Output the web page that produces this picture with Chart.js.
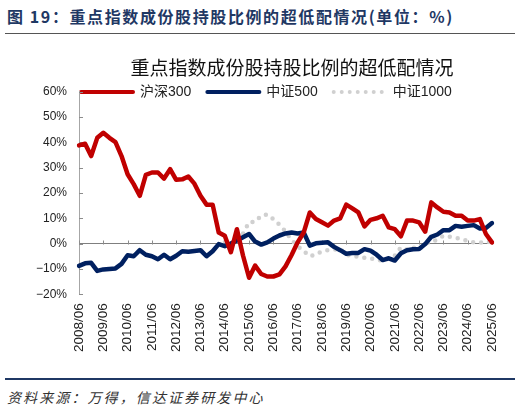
<!DOCTYPE html>
<html>
<head>
<meta charset="utf-8">
<script src="https://cdn.jsdelivr.net/npm/chart.js@4.4.1/dist/chart.umd.min.js"></script>
<style>
  html, body { margin: 0; padding: 0; background: #fff; }
  body { width: 520px; height: 410px; position: relative; overflow: hidden; }
  #hdr { position: absolute; left: 7px; top: 4px; font-family: "Noto Sans CJK SC", sans-serif; font-weight: bold; font-size: 16px; letter-spacing: 1.6px; color: #1f3864; white-space: nowrap; }
  #sep1 { position: absolute; left: 5px; top: 33px; width: 510px; height: 1px; background: #555; }
  #wrap { position: absolute; left: 0; top: 0; width: 520px; height: 370px; }
  #sep2 { position: absolute; left: 5px; top: 378px; width: 510px; height: 2px; background: #1f3864; }
  #src { position: absolute; left: 7px; top: 387px; font-family: "Noto Sans CJK SC", sans-serif; font-style: italic; font-size: 14px; letter-spacing: 2.1px; color: #333; white-space: nowrap; }
</style>
</head>
<body>
<div id="hdr">图 19：重点指数成份股持股比例的超低配情况(单位：%)</div>
<div id="sep1"></div>
<div id="wrap"><canvas id="c"></canvas></div>
<div id="sep2"></div>
<div id="src">资料来源：万得，信达证券研发中心</div>
<script>
const quarters = [
  "2008/06","2008/09","2008/12",
  "2009/03","2009/06","2009/09","2009/12",
  "2010/03","2010/06","2010/09","2010/12",
  "2011/03","2011/06","2011/09","2011/12",
  "2012/03","2012/06","2012/09","2012/12",
  "2013/03","2013/06","2013/09","2013/12",
  "2014/03","2014/06","2014/09","2014/12",
  "2015/03","2015/06","2015/09","2015/12",
  "2016/03","2016/06","2016/09","2016/12",
  "2017/03","2017/06","2017/09","2017/12",
  "2018/03","2018/06","2018/09","2018/12",
  "2019/03","2019/06","2019/09","2019/12",
  "2020/03","2020/06","2020/09","2020/12",
  "2021/03","2021/06","2021/09","2021/12",
  "2022/03","2022/06","2022/09","2022/12",
  "2023/03","2023/06","2023/09","2023/12",
  "2024/03","2024/06","2024/09","2024/12",
  "2025/03","2025/06"
];
const hs300 = [
  38.8, 39.5, 34.6,
  41.8, 43.8, 41.8, 40.1,
  34.6, 27.4, 23.5, 18.9,
  27.2, 28.1, 28.1, 25.7,
  29.4, 25.2, 25.4, 26.5,
  23.7, 18.9, 15.4, 15.4,
  4.4, 3.1, -3.4, 5.7,
  -4.7, -13.5, -8.7, -12.0,
  -13.0, -13.0, -12.2, -9.0,
  -4.5, 0.5, 4.4, 12.3,
  9.7, 8.4, 7.1, 9.1,
  10.0, 15.4, 13.9, 12.3,
  6.8, 9.4, 10.0, 11.0,
  6.4, 5.7, 2.9, 9.1,
  9.1, 8.4, 4.7, 16.3,
  14.3, 12.6, 12.3, 11.0,
  11.0, 9.1, 9.1, 9.7,
  3.8, 0.5
];
const zz500 = [
  -8.8, -7.8, -7.6,
  -10.8, -10.2, -10.0, -9.8,
  -8.0, -4.6, -5.0, -2.6,
  -4.4, -5.0, -6.2, -4.4,
  -6.2, -4.8, -3.0, -3.2,
  -2.9, -2.6, -5.0, -3.0,
  -0.2, -1.0, 0.0, 1.2,
  2.5, 3.8, 0.8, -0.4,
  0.5, 2.0, 3.2, 4.0,
  4.4, 4.0, 4.4, -0.8,
  0.1, 0.3, 0.5, -1.3,
  -2.6, -4.0, -3.7, -3.7,
  -2.2, -2.8, -4.4, -6.5,
  -5.8, -6.7, -3.8, -2.6,
  -2.2, -2.1, -0.2, 2.7,
  3.6, 5.3, 5.3, 7.0,
  6.7, 7.0, 7.3, 6.0,
  6.2, 8.1
];
const zz1000 = [
  null, null, null,
  null, null, null, null,
  null, null, null, null,
  null, null, null, null,
  null, null, null, null,
  null, null, null, null,
  null, 0.5, -0.5, 0.5,
  4.0, 8.4, 8.6, 11.0,
  11.5, 9.7, 7.5, 4.8,
  1.5, -1.0, -3.0, -5.0,
  -4.3, -3.0, -2.6, -2.4,
  -2.0, -4.5, -4.8, -5.2,
  -5.6, -5.8, -6.5, -6.7,
  -6.0, -4.7, -1.5, -2.4,
  -1.5, -2.2, -0.1, 0.8,
  1.5, 3.1, 2.7, 2.3,
  1.8, 1.0, 0.5, 0.3,
  0.8, 0.5
];
const seriesNames = ["沪深300", "中证500", "中证1000"];
const chartTitle = "重点指数成份股持股比例的超低配情况";

const FONT = "'Liberation Sans', 'Noto Sans CJK SC', sans-serif";

const decor = {
  id: 'decor',
  afterLayout(chart) {
    const tb = chart.titleBlock;
    if (tb) {
      const h = tb.bottom - tb.top;
      tb.left = 64; tb.right = 520;
      tb.top = 68 - 11.4 - 10; tb.bottom = tb.top + h;
    }
    const lg = chart.legend;
    if (lg) {
      const h = lg.bottom - lg.top;
      lg.left = 81 - 16; lg.right = chart.chartArea.right;
      lg.top = 92 - 16 - 7; lg.bottom = lg.top + h;
    }
  },
  beforeDatasetsDraw(chart) {
    const {ctx, scales: {x, y}, chartArea} = chart;
    ctx.save();
    ctx.strokeStyle = '#8c8c8c';
    ctx.lineWidth = 1;
    ctx.beginPath();
    const y0 = Math.round(y.getPixelForValue(0)) + 0.5;
    quarters.forEach((q, i) => {
      if (i % 4 === 0) {
        const px = Math.round(x.getPixelForValue(i)) + 0.5;
        ctx.moveTo(px, y0);
        ctx.lineTo(px, y0 - 4);
      }
    });
    y.ticks.forEach(t => {
      const py = Math.round(y.getPixelForValue(t.value)) + 0.5;
      ctx.moveTo(chartArea.left, py);
      ctx.lineTo(chartArea.left + 4, py);
    });
    ctx.stroke();
    ctx.restore();
  }
};

new Chart(document.getElementById('c'), {
  type: 'line',
  data: {
    labels: quarters,
    datasets: [
      { label: seriesNames[0], data: hs300, borderColor: '#c00000', backgroundColor: '#c00000', borderWidth: 4.5, pointRadius: 0, borderJoinStyle: 'round', borderCapStyle: 'round' },
      { label: seriesNames[1], data: zz500, borderColor: '#002060', backgroundColor: '#002060', borderWidth: 4.5, pointRadius: 0, borderJoinStyle: 'round', borderCapStyle: 'round' },
      { label: seriesNames[2], data: zz1000, borderColor: '#d0d0d0', backgroundColor: '#d0d0d0', borderWidth: 4.5, pointRadius: 0, borderDash: [0, 8], borderCapStyle: 'round', borderJoinStyle: 'round' }
    ]
  },
  options: {
    responsive: true,
    maintainAspectRatio: false,
    animation: false,
    layout: { padding: { left: 24, right: 28, top: 14, bottom: 9 } },
    plugins: {
      title: {
        display: true,
        text: chartTitle,
        color: '#111',
        font: { family: "'Noto Sans CJK SC', sans-serif", size: 19, weight: 'normal' },
        padding: { top: 10, bottom: 5 }
      },
      legend: {
        display: true,
        position: 'top',
        align: 'start',
        labels: {
          usePointStyle: true,
          pointStyle: 'line',
          pointStyleWidth: 52,
          padding: 16,
          color: '#222',
          font: { family: FONT, size: 14 },
          generateLabels: (chart) => {
            const items = Chart.defaults.plugins.legend.labels.generateLabels(chart);
            items.forEach(it => {
              const ds = chart.data.datasets[it.datasetIndex];
              it.lineWidth = 4;
              it.strokeStyle = ds.borderColor;
              it.lineCap = 'round';
              it.lineDash = ds.borderDash || [];
            });
            return items;
          }
        }
      },
      tooltip: { enabled: false }
    },
    scales: {
      x: {
        grid: { display: false, drawTicks: false },
        border: { display: false },
        ticks: {
          autoSkip: false,
          maxRotation: 90,
          minRotation: 90,
          padding: 9,
          color: '#222',
          font: { family: FONT, size: 13.5 },
          callback: (v, i) => (i % 4 === 0 ? quarters[i] : null)
        }
      },
      y: {
        min: -20,
        max: 60,
        ticks: {
          stepSize: 10,
          padding: 12,
          color: '#222',
          font: { family: FONT, size: 12 },
          callback: v => (v < 0 ? '\u2212' + Math.abs(v) : v) + '%'
        },
        grid: {
          drawTicks: false,
          color: c => (c.tick && c.tick.value === 0 ? '#7f7f7f' : 'rgba(0,0,0,0)'),
          lineWidth: 1
        },
        border: { display: true, color: '#a6a6a6', width: 1 }
      }
    }
  },
  plugins: [decor]
});
</script>
</body>
</html>
